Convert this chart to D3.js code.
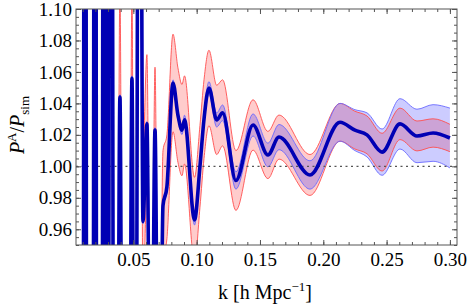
<!doctype html>
<html>
  <head>
    <script src="https://cdnjs.cloudflare.com/ajax/libs/d3/7.8.5/d3.min.js"></script>
    <style>
      body { margin: 0; background: #fff; }
    </style>
  </head>
  <body>
    <svg></svg>
    <script>
      // k values, ratio P^A/P_sim and the half widths of both bands
      var kValues = [0.0047, 0.0098, 0.0118, 0.0137, 0.0177, 0.0197, 0.0216, 0.0248, 0.0268, 0.0295,
                     0.0323, 0.0351, 0.0367, 0.0394, 0.0422, 0.0461, 0.0489, 0.0513, 0.0548, 0.0576,
                     0.0607, 0.0639, 0.0671, 0.0702, 0.0734, 0.0765, 0.0813, 0.0852, 0.0884, 0.0904,
                     0.0983, 0.1026, 0.1058, 0.1097, 0.1158, 0.1205, 0.1310, 0.1445, 0.1563, 0.1650,
                     0.1895, 0.2132, 0.2250, 0.2345, 0.2464, 0.2606, 0.2740, 0.2867, 0.3000];
      var ratio = [0.55, 0.55, 1.6, 0.55, 0.55, 1.6, 0.55, 0.55, 1.6, 0.55,
                   1.6, 0.55, 0.6, 1.044, 0.6, 0.6, 1.056, 0.6, 1.5, 0.965,
                   1.027, 0.75, 1.023, 0.75, 0.975, 0.987, 1.053, 1.0326, 1.023, 1.0295,
                   0.966, 1.000, 1.030, 1.0498, 1.0295, 1.034, 0.991, 1.0263, 1.0072, 1.0186,
                   0.9945, 1.028, 1.023, 1.020, 1.009, 1.027, 1.0193, 1.0212, 1.018];
      var redErr = [0.07, 0.07, 0.07, 0.07, 0.07, 0.07, 0.07, 0.07, 0.07, 0.07,
                    0.07, 0.07, 0.07, 0.07, 0.065, 0.06, 0.055, 0.05, 0.05, 0.045,
                    0.044, 0.042, 0.040, 0.038, 0.035, 0.033, 0.031, 0.030, 0.029, 0.028,
                    0.027, 0.026, 0.025, 0.024, 0.022, 0.021, 0.019, 0.016, 0.015, 0.014,
                    0.013, 0.012, 0.012, 0.012, 0.012, 0.010, 0.0095, 0.009, 0.0087];
      var blueErr = [0.0015, 0.0015, 0.0015, 0.0015, 0.0015, 0.0015, 0.0015, 0.0015, 0.0015, 0.0015,
                     0.0015, 0.0015, 0.0015, 0.0015, 0.0015, 0.0015, 0.0015, 0.0015, 0.0015, 0.0015,
                     0.0015, 0.0015, 0.0016, 0.0017, 0.0018, 0.0019, 0.002, 0.0025, 0.0028, 0.003,
                     0.0033, 0.0035, 0.0037, 0.004, 0.0045, 0.005, 0.0055, 0.007, 0.0075, 0.008,
                     0.009, 0.012, 0.013, 0.014, 0.0147, 0.016, 0.017, 0.018, 0.019];

      var xMajor = [0.05, 0.10, 0.15, 0.20, 0.25, 0.30];
      var yMajor = [0.96, 0.98, 1.00, 1.02, 1.04, 1.06, 1.08, 1.10];

      var width = 468, height = 305;
      var pl = 76, pr = 457, pt = 9, pb = 245;
      var serif = "'Liberation Serif', 'Times New Roman', Times, serif";

      var svg = d3.select("svg").attr("width", width).attr("height", height);

      var x = d3.scaleLinear().domain([0.0047, 0.3056]).range([pl, pr]);
      var y = d3.scaleLinear().domain([0.95, 1.10]).range([pb, pt]);

      var data = kValues.map(function(k, i) {
        return {k: k, v: ratio[i], r: redErr[i], b: blueErr[i]};
      });

      svg.append("clipPath").attr("id", "clip")
        .append("rect").attr("x", pl).attr("y", pt)
        .attr("width", pr - pl).attr("height", pb - pt);

      var plot = svg.append("g").attr("clip-path", "url(#clip)");
      var curve = d3.curveMonotoneX;

      function band(key) {
        return d3.area().curve(curve)
          .x(function(d) { return x(d.k); })
          .y0(function(d) { return y(d.v - d[key]); })
          .y1(function(d) { return y(d.v + d[key]); });
      }
      function edge(key, sign) {
        return d3.line().curve(curve)
          .x(function(d) { return x(d.k); })
          .y(function(d) { return y(d.v + sign * d[key]); });
      }

      // red band
      plot.append("path").attr("d", band("r")(data))
        .style("fill", "rgba(255,0,0,0.2)");
      // blue band
      plot.append("path").attr("d", band("b")(data))
        .style("fill", "rgba(0,0,255,0.2)");

      [1, -1].forEach(function(s) {
        plot.append("path").attr("d", edge("r", s)(data))
          .style("fill", "none").style("stroke", "#ff5050").style("stroke-width", 0.9);
        plot.append("path").attr("d", edge("b", s)(data))
          .style("fill", "none").style("stroke", "#6a6aff").style("stroke-width", 0.9);
      });

      // reference line at 1
      plot.append("line")
        .attr("x1", pl).attr("x2", pr)
        .attr("y1", y(1)).attr("y2", y(1))
        .style("stroke", "#555").style("stroke-width", 1.1)
        .style("stroke-dasharray", "2,3.5");

      // main curve
      plot.append("path")
        .attr("d", d3.line().curve(curve)
          .x(function(d) { return x(d.k); })
          .y(function(d) { return y(d.v); })(data))
        .style("fill", "none").style("stroke", "#0000b4")
        .style("stroke-width", 3.6).style("stroke-linejoin", "round");

      // frame and ticks
      var xMinor = d3.range(1, 31).map(function(i) { return i / 100; });
      var yMinor = d3.range(0, 31).map(function(i) { return 0.95 + i * 0.005; });

      function styleAxis(g) {
        g.attr("font-family", serif);
        g.select(".domain").remove();
        g.selectAll("line").style("stroke", "#555");
        g.selectAll("text").style("font-size", "19px").style("fill", "#000")
          .style("font-family", serif);
      }

      svg.append("g").attr("transform", "translate(0," + pb + ")")
        .call(d3.axisBottom(x).tickValues(xMinor).tickSize(-3).tickFormat(""))
        .call(styleAxis);
      svg.append("g").attr("transform", "translate(0," + pb + ")")
        .call(d3.axisBottom(x).tickValues(xMajor).tickSize(-5).tickPadding(8).tickFormat(d3.format(".2f")))
        .call(styleAxis);
      svg.append("g").attr("transform", "translate(0," + pt + ")")
        .call(d3.axisTop(x).tickValues(xMinor).tickSize(-3).tickFormat(""))
        .call(styleAxis);
      svg.append("g").attr("transform", "translate(0," + pt + ")")
        .call(d3.axisTop(x).tickValues(xMajor).tickSize(-5).tickFormat(""))
        .call(styleAxis);

      svg.append("g").attr("transform", "translate(" + pl + ",0)")
        .call(d3.axisLeft(y).tickValues(yMinor).tickSize(-3).tickFormat(""))
        .call(styleAxis);
      svg.append("g").attr("transform", "translate(" + pl + ",0)")
        .call(d3.axisLeft(y).tickValues(yMajor).tickSize(-5).tickPadding(4).tickFormat(d3.format(".2f")))
        .call(styleAxis);
      svg.append("g").attr("transform", "translate(" + pr + ",0)")
        .call(d3.axisRight(y).tickValues(yMinor).tickSize(-3).tickFormat(""))
        .call(styleAxis);
      svg.append("g").attr("transform", "translate(" + pr + ",0)")
        .call(d3.axisRight(y).tickValues(yMajor).tickSize(-5).tickFormat(""))
        .call(styleAxis);

      svg.append("rect").attr("x", pl).attr("y", pt)
        .attr("width", pr - pl).attr("height", pb - pt)
        .style("fill", "none").style("stroke", "#555").style("stroke-width", 1);

      // axis titles
      var xt = svg.append("text").attr("x", 265).attr("y", 299)
        .attr("text-anchor", "middle").style("font-size", "20px").style("font-family", serif);
      xt.append("tspan").text("k [h Mpc");
      xt.append("tspan").attr("dy", -8).style("font-size", "13px").text("\u22121");
      xt.append("tspan").attr("dy", 8).text("]");

      var yt = svg.append("text").attr("transform", "translate(24,125) rotate(-90)")
        .attr("text-anchor", "middle").style("font-size", "20px").style("font-family", serif);
      yt.append("tspan").style("font-style", "italic").text("P");
      yt.append("tspan").attr("dy", -8).style("font-size", "13px").text("A");
      yt.append("tspan").attr("dy", 8).text("/");
      yt.append("tspan").style("font-style", "italic").text("P");
      yt.append("tspan").attr("dy", 5).style("font-size", "13px").text("sim");
    </script>
  </body>
</html>
